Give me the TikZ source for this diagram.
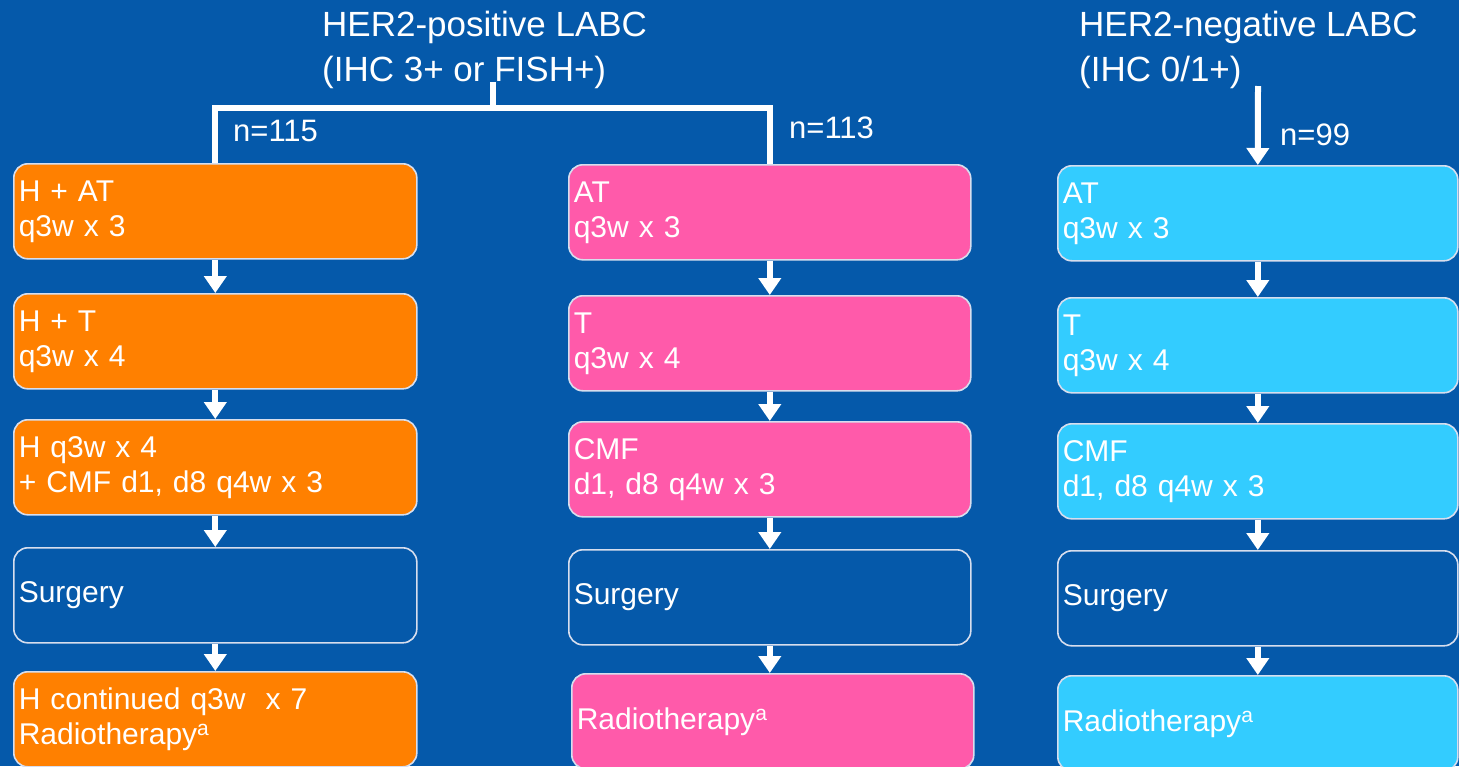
\documentclass[tikz,border=0pt]{standalone}
\usepackage{fontspec}
\setmainfont{Liberation Sans}
\usetikzlibrary{arrows.meta}
\definecolor{bg}{RGB}{5,89,170}
\definecolor{orng}{RGB}{255,128,0}
\definecolor{pnk}{RGB}{255,90,170}
\definecolor{cyn}{RGB}{51,204,255}
\definecolor{edge}{RGB}{215,222,238}
\tikzset{
  stagebox/.style={draw=edge, line width=1.6pt, rounded corners=14pt, anchor=north west,
    minimum height=95pt, inner xsep=5pt, inner ysep=0pt, align=left, text=white,
    font=\fontsize{30}{35}\selectfont},
  w1/.style={minimum width=403pt, text width=393pt},
  w2/.style={minimum width=402pt, text width=392pt},
  w3/.style={minimum width=400pt, text width=390pt},
  flow/.style={draw=white, line width=6pt, -{Triangle[width=22pt,length=17pt]}},
  bracket/.style={draw=white, line width=6pt, line join=miter},
  head/.style={text=white, align=left, anchor=north west, inner sep=0pt,
    font=\fontsize{35}{45}\selectfont},
  nlabel/.style={text=white, anchor=base west, inner sep=0pt, font=\fontsize{31}{35}\selectfont}
}
\begin{document}
\begin{tikzpicture}[x=1pt,y=-1pt]
\fill[bg] (0,0) rectangle (1459,766);
\useasboundingbox (0,0) rectangle (1459,766);
\clip (0,0) rectangle (1459,766);
% headings
\node[head] (h1) at (322,11) {HER2-positive LABC\\(IHC 3+ or FISH+)};
\node[head] (h2) at (1079,11) {HER2-negative LABC\\(IHC 0/1+)};
% column 1
\node[stagebox,w1,fill=orng] (a1) at (13,163) {H + AT\\q3w x 3};
\node[stagebox,w1,fill=orng] (a2) at (13,293) {H + T\\q3w x 4};
\node[stagebox,w1,fill=orng] (a3) at (13,419) {H q3w x 4\\+ CMF d1, d8 q4w x 3};
\node[stagebox,w1,fill=bg] (a4) at (13,547) {Surgery};
\node[stagebox,w1,fill=orng] (a5) at (13,671) {H continued q3w \ x 7\\Radiotherapy\textsuperscript{a}};
% column 2
\node[stagebox,w2,fill=pnk] (b1) at (568,164) {AT\\q3w x 3};
\node[stagebox,w2,fill=pnk] (b2) at (568,295) {T\\q3w x 4};
\node[stagebox,w2,fill=pnk] (b3) at (568,421) {CMF\\d1, d8 q4w x 3};
\node[stagebox,w2,fill=bg] (b4) at (568,549) {Surgery};
\node[stagebox,w2,fill=pnk] (b5) at (571,673) {Radiotherapy\textsuperscript{a}};
% column 3
\node[stagebox,w3,fill=cyn] (c1) at (1057,165) {AT\\q3w x 3};
\node[stagebox,w3,fill=cyn] (c2) at (1057,297) {T\\q3w x 4};
\node[stagebox,w3,fill=cyn] (c3) at (1057,423) {CMF\\d1, d8 q4w x 3};
\node[stagebox,w3,fill=bg] (c4) at (1057,550) {Surgery};
\node[stagebox,w3,fill=cyn] (c5) at (1057,675) {Radiotherapy\textsuperscript{a}};
% bracket
\coordinate (stem) at (493,82);
\coordinate (split) at (493,108);
\draw[bracket] (stem) -- (split) -| (a1.north);
\draw[bracket] (split) -| (b1.north);
\coordinate (negtop) at (1258,86);
\draw[flow] (negtop) -- (c1.north);
% n labels
\node[nlabel] (n1) at (233,141) {n=115};
\node[nlabel] (n2) at (789,138) {n=113};
\node[nlabel] (n3) at (1280,145) {n=99};
% flow arrows
\foreach \c in {a,b,c}{
  \draw[flow] (\c1.south) -- (\c2.north);
  \draw[flow] (\c2.south) -- (\c3.north);
  \draw[flow] (\c3.south) -- (\c4.north);
  \draw[flow] (\c4.south) -- (\c4.south |- \c5.north);
}
\end{tikzpicture}
\end{document}
